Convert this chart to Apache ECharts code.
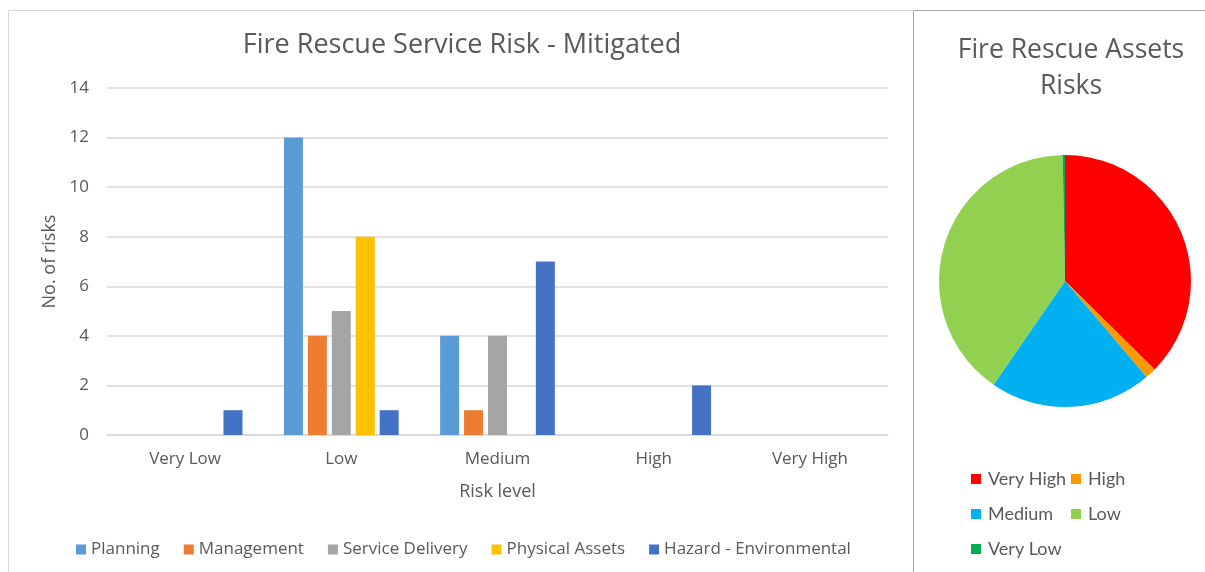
<!DOCTYPE html>
<html>
<head>
<meta charset="utf-8">
<script src="https://cdn.jsdelivr.net/npm/echarts@6/dist/echarts.min.js"></script>
<style>
html,body{margin:0;padding:0;background:#fff;}
#c{width:1205px;height:572px;}
</style>
</head>
<body>
<div id="c"></div>
<script>
const riskLevels = ['Very Low', 'Low', 'Medium', 'High', 'Very High'];
const planning = [0, 12, 4, 0, 0];
const management = [0, 4, 1, 0, 0];
const serviceDelivery = [0, 5, 4, 0, 0];
const physicalAssets = [0, 8, 0, 0, 0];
const hazardEnvironmental = [1, 1, 7, 2, 0];
const yTicks = [0, 2, 4, 6, 8, 10, 12, 14];

const pieNames = ['Very High', 'High', 'Medium', 'Low', 'Very Low'];
const pieValues = [37.4, 1.4, 20.8, 40.1, 0.3];

const barColors = ['#5B9BD5', '#ED7D31', '#A5A5A5', '#FFC000', '#4472C4'];
const pieColors = ['#FF0000', '#FF9900', '#00B0F0', '#92D050', '#00B050'];
const txt = '#595959';
const font = 'Open Sans';

const barSeriesDefs = [
  ['Planning', planning],
  ['Management', management],
  ['Service Delivery', serviceDelivery],
  ['Physical Assets', physicalAssets],
  ['Hazard - Environmental', hazardEnvironmental]
];

const chart = echarts.init(document.getElementById('c'), null, {renderer: 'canvas'});
const option = {
  animation: false,
  backgroundColor: '#fff',
  textStyle: {fontFamily: font},
  title: [
    {text: 'Fire Rescue Service Risk - Mitigated', left: 457, top: 27, textAlign: 'center',
     textStyle: {fontFamily: font, fontSize: 27, fontWeight: 'normal', color: txt}},
    {text: 'Fire Rescue Assets\nRisks', left: 1066, top: 27, textAlign: 'center',
     textStyle: {fontFamily: font, fontSize: 26.5, fontWeight: 'normal', color: txt, lineHeight: 36}}
  ],
  graphic: [
    {type: 'line', shape: {x1: 8, y1: 10.5, x2: 912, y2: 10.5}, style: {stroke: '#d9d9d9', lineWidth: 1}},
    {type: 'line', shape: {x1: 8.5, y1: 10, x2: 8.5, y2: 572}, style: {stroke: '#d9d9d9', lineWidth: 1}},
    {type: 'line', shape: {x1: 913, y1: 10.5, x2: 1205, y2: 10.5}, style: {stroke: '#a6a6a6', lineWidth: 1}},
    {type: 'line', shape: {x1: 913.5, y1: 10, x2: 913.5, y2: 572}, style: {stroke: '#a6a6a6', lineWidth: 1}}
  ],
  legend: [
    {data: barSeriesDefs.map(d => d[0]), left: 71, top: 536, orient: 'horizontal',
     itemWidth: 10, itemHeight: 10, itemGap: 24, icon: 'rect', align: 'left',
     textStyle: {fontFamily: font, fontSize: 17, color: txt}},
    {data: ['Very High', 'Medium', 'Very Low'], left: 966, top: 465, orient: 'vertical',
     itemWidth: 10, itemHeight: 10, itemGap: 17, icon: 'rect',
     textStyle: {fontFamily: 'Lato', fontSize: 18, color: txt, padding: [0, 0, 0, 2]}},
    {data: ['High', 'Low'], left: 1066, top: 465, orient: 'vertical',
     itemWidth: 10, itemHeight: 10, itemGap: 17, icon: 'rect',
     textStyle: {fontFamily: 'Lato', fontSize: 18, color: txt, padding: [0, 0, 0, 2]}}
  ],
  grid: {left: 107, right: 317, top: 88, bottom: 137, containLabel: false},
  xAxis: {
    type: 'category', data: riskLevels,
    name: 'Risk level', nameLocation: 'middle', nameGap: 48,
    nameTextStyle: {fontFamily: font, fontSize: 18, color: txt},
    axisLine: {lineStyle: {color: '#d9d9d9', width: 1.5}},
    axisTick: {show: false},
    axisLabel: {fontFamily: font, fontSize: 17, color: txt, margin: 16}
  },
  yAxis: {
    type: 'value', min: yTicks[0], max: yTicks[yTicks.length - 1], interval: 2,
    name: 'No. of risks', nameLocation: 'middle', nameGap: 47, nameRotate: 90,
    nameTextStyle: {fontFamily: font, fontSize: 18, color: txt},
    axisLine: {show: false}, axisTick: {show: false},
    axisLabel: {fontFamily: font, fontSize: 17, color: txt, margin: 18},
    splitLine: {lineStyle: {color: '#d9d9d9', width: 1.5}}
  },
  series: barSeriesDefs.map((d, i) => ({
    name: d[0], type: 'bar', data: d[1], barWidth: 19, barGap: '26%',
    itemStyle: {color: barColors[i]}
  })).concat([{
    name: 'Assets', type: 'pie', center: [1065, 281], radius: 126,
    startAngle: 90, clockwise: true, label: {show: false}, labelLine: {show: false},
    data: pieNames.map((n, i) => ({name: n, value: pieValues[i], itemStyle: {color: pieColors[i]}}))
  }])
};
chart.setOption(option);
</script>
</body>
</html>
